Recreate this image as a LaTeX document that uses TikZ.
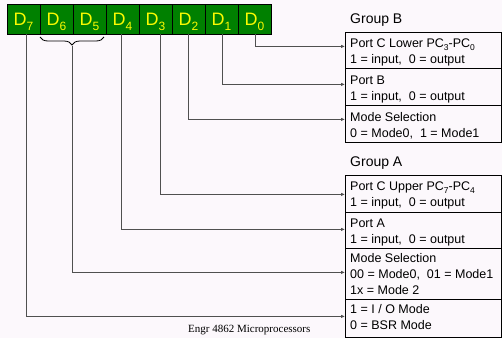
\documentclass[tikz,border=0pt]{standalone}
\usepackage{fontspec}
\setmainfont{Liberation Sans}
\newfontfamily\timesf{Liberation Serif}
\usetikzlibrary{arrows.meta,decorations.pathreplacing}
\definecolor{bgc}{RGB}{252,248,252}
\definecolor{cellgreen}{RGB}{0,128,0}
\definecolor{cellyellow}{RGB}{250,250,0}
\definecolor{lnc}{RGB}{80,80,80}
\newcommand\dsub[1]{\raisebox{-5pt}{\fontsize{12}{12}\selectfont #1}}
\newcommand\bsub[1]{\raisebox{-3pt}{\fontsize{8.5}{8.5}\selectfont #1}}
\tikzset{
  cell/.style={draw=black, line width=0.8pt, fill=cellgreen, minimum width=33pt, minimum height=30pt,
    inner sep=0pt, text=cellyellow, font=\fontsize{18}{18}\selectfont, text height=13pt, text depth=0pt},
  rowbox/.style={draw=black, line width=0.8pt, minimum width=156pt, inner sep=0pt, anchor=north west},
  txt/.style={anchor=base west, inner sep=0pt, font=\fontsize{12.5}{12.5}\selectfont},
  grp/.style={anchor=base west, inner sep=0pt, font=\fontsize{14}{14}\selectfont},
  conn/.style={draw=lnc, line width=0.8pt, -{Latex[length=4pt,width=3.5pt]}},
}
\begin{document}
\begin{tikzpicture}[x=1pt,y=-1pt]
\useasboundingbox (0,0) rectangle (502,338);
\fill[bgc] (0,0) rectangle (502,338);
% data register cells
\node[cell] (c7) at (23.5,19) {D\dsub{7}};
\node[cell] (c6) at (56.5,19) {D\dsub{6}};
\node[cell] (c5) at (89.5,19) {D\dsub{5}};
\node[cell] (c4) at (122.5,19) {D\dsub{4}};
\node[cell] (c3) at (155.5,19) {D\dsub{3}};
\node[cell] (c2) at (188.5,19) {D\dsub{2}};
\node[cell] (c1) at (221.5,19) {D\dsub{1}};
\node[cell] (c0) at (254.5,19) {D\dsub{0}};
% Group B
\node[grp] (gB) at (350,23) {Group B};
\node[rowbox, minimum height=36pt] (b1) at (345,32) {};
\node[rowbox, minimum height=37pt] (b2) at (345,68) {};
\node[rowbox, minimum height=37pt] (b3) at (345,105) {};
\node[txt] (b1t1) at (350,47) {Port C Lower PC\bsub{3}-PC\bsub{0}};
\node[txt] (b1t2) at (350,63) {1 = input,~ 0 = output};
\node[txt] (b2t1) at (350,84) {Port B};
\node[txt] (b2t2) at (350,100) {1 = input,~ 0 = output};
\node[txt] (b3t1) at (350,121) {Mode Selection};
\node[txt] (b3t2) at (350,137) {0 = Mode0,~ 1 = Mode1};
% Group A
\node[grp] (gA) at (350,166) {Group A};
\node[rowbox, minimum height=37pt] (a1) at (345,175) {};
\node[rowbox, minimum height=36pt] (a2) at (345,212) {};
\node[rowbox, minimum height=51pt] (a3) at (345,248) {};
\node[rowbox, minimum height=38pt] (a4) at (345,299) {};
\node[txt] (a1t1) at (350,190) {Port C Upper PC\bsub{7}-PC\bsub{4}};
\node[txt] (a1t2) at (350,206) {1 = input,~ 0 = output};
\node[txt] (a2t1) at (350,227) {Port A};
\node[txt] (a2t2) at (350,243) {1 = input,~ 0 = output};
\node[txt] (a3t1) at (350,262) {Mode Selection};
\node[txt] (a3t2) at (350,278) {00 = Mode0,~ 01 = Mode1};
\node[txt] (a3t3) at (350,294) {1x = Mode 2};
\node[txt] (a4t1) at (350,313) {1 = I / O Mode};
\node[txt] (a4t2) at (350,329) {0 = BSR Mode};
% brace under D6 D5
\draw[line width=0.8pt, decorate, decoration={brace, mirror, amplitude=8pt}] (40,37) -- (104,37);
\coordinate (br) at (72,46);
% connectors
\draw[conn] ([xshift=0.5pt]c0.south) |- ([shift={(0,-4)}]b1.west);
\draw[conn] ([xshift=0.5pt]c1.south) |- ([shift={(0,-2.5)}]b2.west);
\draw[conn] ([xshift=-0.5pt]c2.south) |- ([shift={(0,-4.5)}]b3.west);
\draw[conn] ([xshift=4.5pt]c3.south) |- ([shift={(0,0.5)}]a1.west);
\draw[conn] ([xshift=-1.5pt]c4.south) |- ([shift={(0,-1)}]a2.west);
\draw[conn] (br) |- ([shift={(0,-1.5)}]a3.west);
\draw[conn] ([xshift=2.5pt]c7.south) |- ([shift={(0,-2)}]a4.west);
% footer
\node[anchor=base west, inner sep=0pt, font=\timesf\fontsize{11}{11}\selectfont] (foot) at (188,332) {Engr 4862 Microprocessors};
\end{tikzpicture}
\end{document}
